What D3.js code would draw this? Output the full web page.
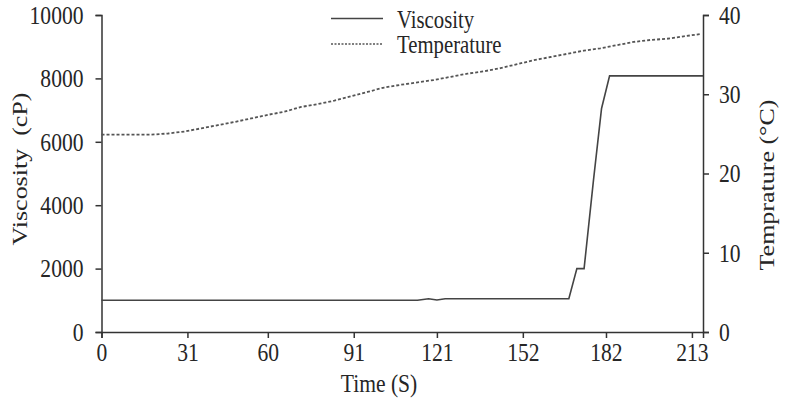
<!DOCTYPE html>
<html><head><meta charset="utf-8">
<script src="https://cdn.jsdelivr.net/npm/d3@7"></script>
<style>
html,body{margin:0;padding:0;background:#fff;}
svg{display:block;}
text{font-family:"Liberation Serif","Times New Roman",serif;fill:#262626;}
</style></head>
<body>
<svg id="chart" width="785" height="409"></svg>
<script>
// ---- data ----
const timeTicks = [0, 31, 60, 91, 121, 152, 182, 213];
const viscTicks = [0, 2000, 4000, 6000, 8000, 10000];
const tempTicks = [0, 10, 20, 30, 40];

const viscTime  = [0, 114, 118, 121, 124, 168.6, 171.5, 174.1, 177.5, 180.4, 183.3, 217];
const viscValue = [1000, 1000, 1050, 1010, 1050, 1050, 2000, 2000, 4800, 7050, 8080, 8080];

const tempTime  = [0, 6, 12, 18, 24, 30, 36, 42, 48, 54, 60, 66, 72, 78, 84, 90, 96, 102, 108, 114, 120, 126, 132, 138, 144, 150, 156, 162, 168, 174, 180, 186, 192, 198, 204, 210, 216];
const tempValue = [24.9, 24.9, 24.9, 24.9, 25.05, 25.3, 25.7, 26.1, 26.5, 26.95, 27.4, 27.8, 28.4, 28.75, 29.2, 29.75, 30.3, 30.85, 31.2, 31.5, 31.8, 32.2, 32.6, 32.9, 33.3, 33.8, 34.3, 34.7, 35.1, 35.5, 35.8, 36.2, 36.6, 36.85, 37.0, 37.3, 37.6];

const seriesNames = ["Viscosity", "Temperature"];

(function () {
// ---- layout ----
const svg = d3.select("#chart");
const mLeft = 101.5, mRight = 703, mTop = 15, mBottom = 332;
const SX = 0.83, FS = 26;
const ink = "#333";

const x = d3.scaleLinear().domain([0, 217]).range([mLeft, mRight]);
const yL = d3.scaleLinear().domain([0, 10000]).range([mBottom, mTop]);
const yR = d3.scaleLinear().domain([0, 40]).range([mBottom, mTop]);

function squashTicks(g) {
  g.selectAll(".tick text").each(function () {
    const t = d3.select(this);
    const xx = +t.attr("x") || 0;
    t.attr("x", 0).attr("transform", `translate(${xx},0) scale(${SX},1)`)
     .style("font-size", FS + "px").attr("fill", "#262626");
  });
  g.select(".domain").attr("stroke", ink).attr("stroke-width", 1.5);
  g.selectAll(".tick line").attr("stroke", ink).attr("stroke-width", 1.5);
  g.attr("font-family", null).attr("font-size", null);
}

// x axis
svg.append("g").attr("transform", `translate(0,${mBottom})`)
  .call(d3.axisBottom(x).tickValues(timeTicks).tickFormat(d3.format("d")).tickSizeOuter(0).tickSize(6).tickPadding(5))
  .call(squashTicks);

// left axis
svg.append("g").attr("transform", `translate(${mLeft},0)`)
  .call(d3.axisLeft(yL).tickValues(viscTicks).tickFormat(d3.format("d")).tickSizeOuter(0).tickSize(6).tickPadding(12))
  .call(squashTicks);

// right axis
svg.append("g").attr("transform", `translate(${mRight},0)`)
  .call(d3.axisRight(yR).tickValues(tempTicks).tickFormat(d3.format("d")).tickSizeOuter(0).tickSize(6).tickPadding(10))
  .call(squashTicks);

// lines
const viscData = viscTime.map((t, i) => [t, viscValue[i]]);
const tempData = tempTime.map((t, i) => [t, tempValue[i]]);

svg.append("path").datum(tempData)
  .attr("fill", "none").attr("stroke", "#555").attr("stroke-width", 1.8)
  .attr("stroke-dasharray", "3,2")
  .attr("d", d3.line().x(d => x(d[0])).y(d => yR(d[1])));

svg.append("path").datum(viscData)
  .attr("fill", "none").attr("stroke", "#444").attr("stroke-width", 1.6)
  .attr("d", d3.line().x(d => x(d[0])).y(d => yL(d[1])));

// titles
function sText(xp, yp, str, rot, anchor, fs) {
  return svg.append("text")
    .attr("transform", `translate(${xp},${yp}) scale(${SX},1)` + (rot ? ` rotate(${rot})` : ""))
    .attr("text-anchor", anchor || "middle")
    .style("font-size", (fs || FS) + "px")
    .style("white-space", "pre")
    .text(str);
}
sText(379, 392, "Time (S)");
sText(27, 169, "Viscosity  (cP)", -90);
sText(774, 185, "Temprature (°C)", -90);

// legend
const lg = svg.append("g");
lg.append("line").attr("x1", 331).attr("x2", 383).attr("y1", 18.5).attr("y2", 18.5)
  .attr("stroke", "#444").attr("stroke-width", 1.6);
lg.append("line").attr("x1", 331).attr("x2", 383).attr("y1", 44).attr("y2", 44)
  .attr("stroke", "#555").attr("stroke-width", 1.4).attr("stroke-dasharray", "2,1.5");
sText(397, 28, seriesNames[0], 0, "start", 25);
sText(397, 53, seriesNames[1], 0, "start", 25);
})();
</script>
</body></html>
